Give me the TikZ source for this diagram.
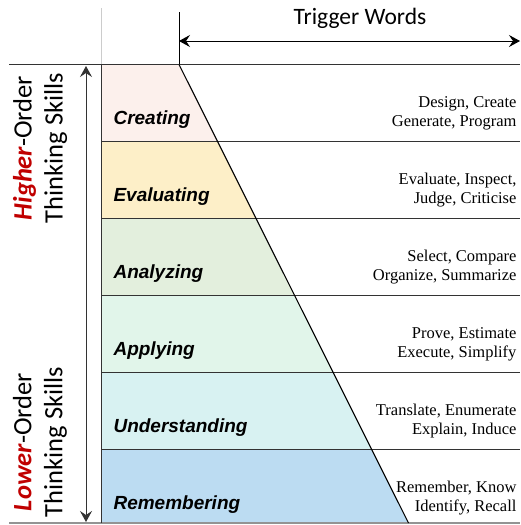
\documentclass[tikz,border=0pt]{standalone}
\usepackage{fontspec}
\setmainfont{Liberation Serif}
\newfontfamily\arialf{Liberation Sans}
\newfontfamily\calf{Carlito}
\usetikzlibrary{arrows.meta}
\definecolor{cCre}{HTML}{FCF0EC}
\definecolor{cEva}{HTML}{FDEFC8}
\definecolor{cAna}{HTML}{E3EFDD}
\definecolor{cApp}{HTML}{E1F5EA}
\definecolor{cUnd}{HTML}{D8F2F2}
\definecolor{cRem}{HTML}{BCDCF2}
\definecolor{hred}{HTML}{C00000}
\definecolor{lineg}{HTML}{333333}
\begin{document}
\begin{tikzpicture}[x=1pt,y=-1pt,
  lvl/.style={anchor=west,font=\arialf\bfseries\itshape\fontsize{19}{22}\selectfont},
  words/.style={anchor=east,align=right,font=\fontsize{16.5}{19}\selectfont},
  sep/.style={draw=lineg,line width=1.1pt},
  side/.style={rotate=90,align=center,font=\calf\fontsize{26.5}{31}\selectfont}]
\useasboundingbox (0,0) rectangle (520,525);
% fills
\foreach \t/\b/\c in {64.5/141.5/cCre,141.5/218.5/cEva,218.5/295.5/cAna,295.5/372.5/cApp,372.5/449.5/cUnd,449.5/523/cRem}{
  \fill[\c] (101.5,\t) -- ({179+0.5*(\t-64.5)},\t) -- ({179+0.5*(\b-64.5)},\b) -- (101.5,\b) -- cycle;
}
% header
\draw[gray!40,line width=0.8pt] (101.5,8) -- (101.5,64.5);
\coordinate (hl) at (179,41);
\coordinate (hr) at (520,41);
\draw[line width=1pt] (179,12) -- (179,64.5);
\draw[line width=1pt,{Stealth[length=11pt,width=12pt,inset=4pt]}-{Stealth[length=11pt,width=12pt,inset=4pt]}] (hl) -- (hr);
\node[font=\calf\fontsize{23.5}{28}\selectfont] (tw) at (360,18) {Trigger Words};
% separators
\draw[sep] (9,64.5) -- (520,64.5);
\foreach \y in {141.5,218.5,295.5,372.5,449.5}{\draw[sep] (101.5,\y) -- (520,\y);}
\draw[draw=gray!85,line width=1.1pt] (9,523) -- (520,523);
\draw[sep] (101.5,64.5) -- (101.5,523);
\draw[line width=1.1pt] (179,64.5) -- (408.5,523);
% side arrow
\coordinate (at) at (86,66);
\coordinate (ab) at (86,522);
\draw[lineg,line width=1pt,{Stealth[length=11pt,width=12pt,inset=4pt]}-{Stealth[length=11pt,width=12pt,inset=4pt]}] (at) -- (ab);
\node[side] (hi) at (40,148) {\textcolor{hred}{\bfseries\itshape Higher}-Order\\Thinking Skills};
\node[side] (lo) at (40,442) {\textcolor{hred}{\bfseries\itshape Lower}-Order\\Thinking Skills};
% labels
\node[lvl] (l1) at (110,119.5) {Creating};
\node[lvl] (l2) at (110,196.5) {Evaluating};
\node[lvl] (l3) at (110,273.5) {Analyzing};
\node[lvl] (l4) at (110,350.5) {Applying};
\node[lvl] (l5) at (110,427.5) {Understanding};
\node[lvl] (l6) at (110,504.5) {Remembering};
% words
\node[words] (w1) at (520,113) {Design, Create\\Generate, Program};
\node[words] (w2) at (520,190) {Evaluate, Inspect,\\Judge, Criticise};
\node[words] (w3) at (520,267) {Select, Compare\\Organize, Summarize};
\node[words] (w4) at (520,344) {Prove, Estimate\\Execute, Simplify};
\node[words] (w5) at (520,421) {Translate, Enumerate\\Explain, Induce};
\node[words] (w6) at (520,498) {Remember, Know\\Identify, Recall};
\end{tikzpicture}
\end{document}
